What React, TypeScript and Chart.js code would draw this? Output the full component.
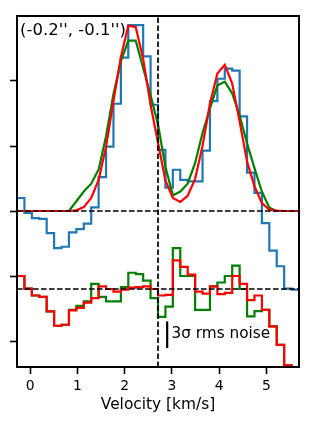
import React, { useEffect, useRef } from "react";
import { Chart, registerables } from "chart.js";

Chart.register(...registerables);

// Channel edges (km/s)
const velocity = [
  -0.277, -0.12, 0.037, 0.194, 0.351, 0.508, 0.665, 0.822, 0.979, 1.136,
  1.293, 1.45, 1.607, 1.764, 1.921, 2.078, 2.235, 2.392, 2.549, 2.706,
  2.863, 3.02, 3.177, 3.334, 3.491, 3.648, 3.805, 3.962, 4.119, 4.276,
  4.433, 4.59, 4.747, 4.904, 5.061, 5.218, 5.375, 5.532, 5.689,
];

// Observed spectrum (one value per channel)
const observed = [
  0.2, -0.03, -0.11, -0.12, -0.34, -0.57, -0.55, -0.33, -0.28, -0.195,
  0.055, 0.52, 0.99, 1.65, 2.36, 2.86, 2.86, 2.38, 1.635, 0.94,
  0.36, 0.635, 0.48, 0.455, 0.455, 0.93, 1.69, 2.035, 2.19, 2.16,
  1.455, 0.59, 0.28, -0.185, -0.61, -0.85, -1.195, -1.21,
];

// Models (sampled at channel edges)
const modelGreen = [
  0, 0, 0, 0, 0, 0, 0, 0, 0.15, 0.3,
  0.42, 0.64, 1.15, 1.8, 2.3, 2.62, 2.62, 2.2, 1.78, 1.33,
  0.68, 0.24, 0.3, 0.42, 0.74, 1.2, 1.58, 1.93, 1.99, 1.81,
  1.47, 1.04, 0.66, 0.3, 0.05, 0, 0, 0, 0,
];
const modelRed = [
  0, 0, 0, 0, 0, 0, 0, 0, 0.01, 0.06,
  0.2, 0.48, 0.99, 1.69, 2.37, 2.85, 2.83, 2.34, 1.635, 1.05,
  0.47, 0.2, 0.14, 0.235, 0.495, 1.0, 1.65, 2.115, 2.25, 1.96,
  1.375, 0.76, 0.38, 0.12, 0.02, 0.005, 0, 0, 0,
];

// Residuals (shifted to the lower baseline)
const residGreen = [
  -1.0, -1.195, -1.3, -1.32, -1.545, -1.765, -1.75, -1.52, -1.46, -1.39,
  -1.12, -1.32, -1.39, -1.39, -1.17, -0.95, -0.97, -1.07, -1.34, -1.63,
  -1.47, -0.57, -1.0, -1.0, -1.52, -1.52, -1.16, -1.1, -1.0, -0.84,
  -1.2, -1.62, -1.54, -1.52, -1.775, -2.06, -2.375, -2.45,
];
const residRed = [
  -1.0, -1.195, -1.3, -1.32, -1.545, -1.765, -1.75, -1.53, -1.49, -1.41,
  -1.34, -1.16, -1.2, -1.24, -1.21, -1.18, -1.17, -1.16, -1.2, -1.3,
  -1.29, -0.76, -0.86, -0.98, -1.24, -1.27, -1.16, -1.28, -1.26, -1.0,
  -1.12, -1.37, -1.3, -1.52, -1.775, -2.06, -2.375, -2.45,
];

const xTicks = [0, 1, 2, 3, 4, 5];
const yTicks = [-2, -1, 0, 1, 2];
const baselines = [0, -1.2];
const systemicVelocity = 2.706;
const noiseBarX = 2.9;
const noiseBarY = [-2.108, -1.698];
const noiseLabelPos = [2.99, -1.9];
const xRange = [-0.277, 5.689];
const yRange = [-2.4, 3.0];
const positionLabel = "(-0.2'', -0.1'')";
const noiseLabel = "3\u03c3 rms noise";
const xTitle = "Velocity [km/s]";

const FONT = "'DejaVu Sans', sans-serif";

function stepPoints(values: number[]) {
  return velocity.map((v, i) => ({ x: v, y: values[Math.min(i, values.length - 1)] }));
}
function linePoints(values: number[]) {
  return velocity.map((v, i) => ({ x: v, y: values[i] }));
}

export default function App() {
  const ref = useRef<HTMLCanvasElement | null>(null);
  useEffect(() => {
    if (!ref.current) return;
    Chart.defaults.font.family = FONT;
    Chart.defaults.color = "#000";

    const dash = [5.6, 2.4];
    const textPlugin = {
      id: "annot",
      afterDatasetsDraw(chart: any) {
        const { ctx, chartArea, scales } = chart;
        ctx.save();
        ctx.strokeStyle = "#000";
        ctx.lineWidth = 2;
        ctx.strokeRect(chartArea.left, chartArea.top, chartArea.right - chartArea.left, chartArea.bottom - chartArea.top);
        ctx.fillStyle = "#000";
        ctx.textBaseline = "middle";
        ctx.textAlign = "left";
        ctx.font = `16.5px ${FONT}`;
        ctx.fillText(positionLabel, chartArea.left + 3, chartArea.top + 15);
        ctx.font = `15.3px ${FONT}`;
        ctx.fillText(
          noiseLabel,
          scales.x.getPixelForValue(noiseLabelPos[0]),
          scales.y.getPixelForValue(noiseLabelPos[1])
        );
        ctx.restore();
      },
    };

    const base = { pointRadius: 0, borderWidth: 2.2, tension: 0, fill: false };
    const chart = new Chart(ref.current, {
      type: "line",
      data: {
        datasets: [
          ...baselines.map((b) => ({
            ...base,
            data: [{ x: xRange[0], y: b }, { x: xRange[1], y: b }],
            borderColor: "#000",
            borderWidth: 1.7,
            borderDash: dash,
          })),
          {
            ...base,
            data: [{ x: systemicVelocity, y: yRange[0] }, { x: systemicVelocity, y: yRange[1] }],
            borderColor: "#000",
            borderWidth: 1.7,
            borderDash: dash,
          },
          {
            ...base,
            data: [{ x: noiseBarX, y: noiseBarY[0] }, { x: noiseBarX, y: noiseBarY[1] }],
            borderColor: "#000",
          },
          { ...base, data: stepPoints(residRed), borderColor: "#ff0000", stepped: "before" },
          { ...base, data: stepPoints(residGreen), borderColor: "#008000", stepped: "before" },
          { ...base, data: linePoints(modelRed), borderColor: "#ff0000" },
          { ...base, data: linePoints(modelGreen), borderColor: "#008000" },
          { ...base, data: stepPoints(observed), borderColor: "#1f77b4", stepped: "before" },
        ] as any,
      },
      options: {
        animation: false,
        responsive: false,
        devicePixelRatio: 1,
        layout: { padding: { left: 0, right: 8, top: 8, bottom: 0 } },
        plugins: { legend: { display: false }, tooltip: { enabled: false } },
        scales: {
          x: {
            type: "linear",
            min: xRange[0],
            max: xRange[1],
            afterBuildTicks: (s: any) => {
              s.ticks = xTicks.map((v) => ({ value: v }));
            },
            afterFit: (s: any) => {
              s.height = 49;
            },
            border: { display: false },
            grid: {
              drawOnChartArea: false,
              drawTicks: true,
              tickLength: 7,
              tickColor: "#000",
              tickWidth: 1.6,
            },
            ticks: { font: { size: 13.9 }, color: "#000", padding: 4, maxRotation: 0 },
            title: {
              display: true,
              text: xTitle,
              font: { size: 15.4 },
              color: "#000",
              padding: { top: 0, bottom: 2 },
            },
          },
          y: {
            type: "linear",
            min: yRange[0],
            max: yRange[1],
            afterBuildTicks: (s: any) => {
              s.ticks = yTicks.map((v) => ({ value: v }));
            },
            afterFit: (s: any) => {
              s.width = 9;
            },
            border: { display: false },
            grid: {
              drawOnChartArea: false,
              drawTicks: true,
              tickLength: 7,
              tickColor: "#000",
              tickWidth: 1.6,
            },
            ticks: { display: false },
          },
        },
      } as any,
      plugins: [textPlugin],
    });
    return () => chart.destroy();
  }, []);

  return (
    <div style={{ width: 299, height: 408 }}>
      <canvas ref={ref} width={299} height={408} style={{ display: "block" }} />
    </div>
  );
}
